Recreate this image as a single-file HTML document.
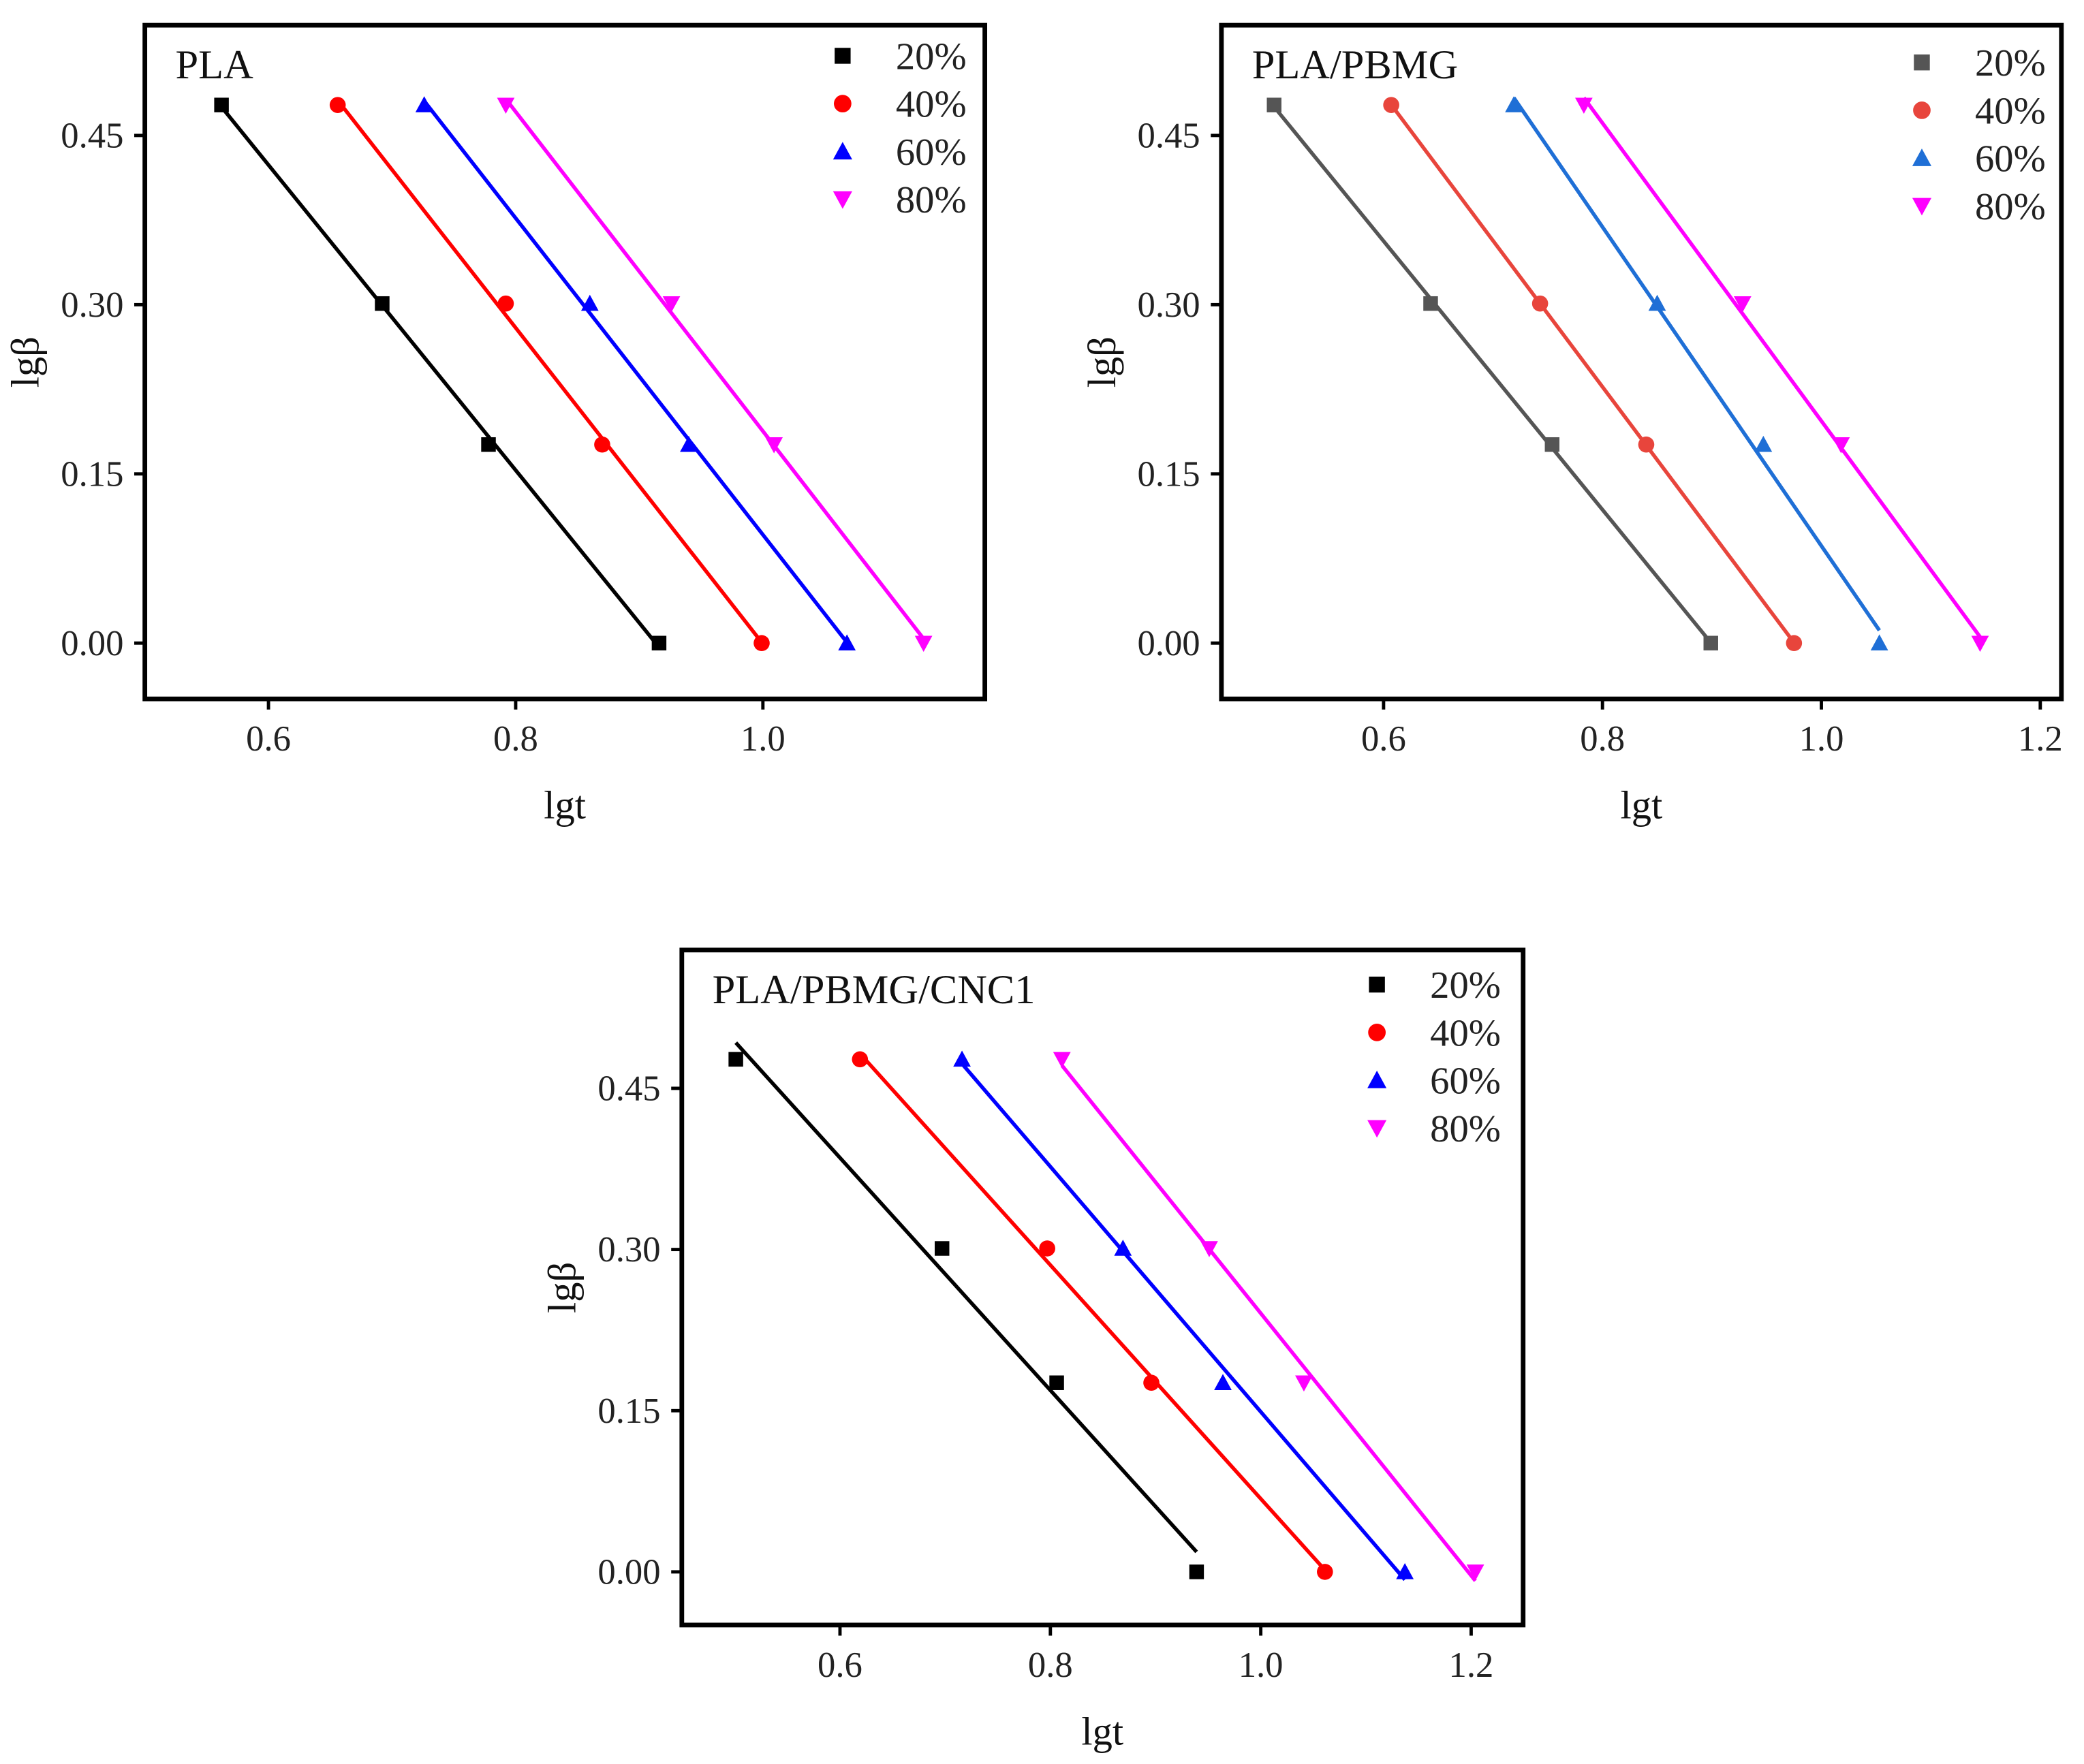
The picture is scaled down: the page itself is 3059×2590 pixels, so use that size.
<!DOCTYPE html>
<html><head><meta charset="utf-8">
<style>
html,body{margin:0;padding:0;background:#fff;}
svg{display:block;}
svg text{font-family:"Liberation Serif","Times New Roman",serif;}
</style></head>
<body>
<svg id="fig" width="3059" height="2590" viewBox="0 0 1568 1327.6" preserveAspectRatio="none" xmlns="http://www.w3.org/2000/svg">
<rect x="0" y="0" width="1568" height="1328" fill="#fff"/>
</svg>
<script>
// Shared y data (lgβ)
const yValues = [0.477, 0.301, 0.176, 0.0];
const seriesLabels = ["20%", "40%", "60%", "80%"];
const yTicks = [0.00, 0.15, 0.30, 0.45];
const yTickLabels = ["0.00", "0.15", "0.30", "0.45"];

// Panel 1: PLA
const plaX20 = [0.562, 0.692, 0.778, 0.916];
const plaX40 = [0.656, 0.792, 0.870, 0.999];
const plaX60 = [0.726, 0.860, 0.940, 1.068];
const plaX80 = [0.792, 0.926, 1.009, 1.130];
const plaXTicks = [0.6, 0.8, 1.0];
const plaXTickLabels = ["0.6", "0.8", "1.0"];

// Panel 2: PLA/PBMG
const pbmgX20 = [0.500, 0.643, 0.754, 0.899];
const pbmgX40 = [0.607, 0.743, 0.840, 0.975];
const pbmgX60 = [0.719, 0.850, 0.947, 1.053];
const pbmgX80 = [0.783, 0.928, 1.018, 1.145];
const pbmgXTicks = [0.6, 0.8, 1.0, 1.2];
const pbmgXTickLabels = ["0.6", "0.8", "1.0", "1.2"];

// Panel 3: PLA/PBMG/CNC1
const cncX20 = [0.501, 0.697, 0.806, 0.939];
const cncX40 = [0.619, 0.797, 0.896, 1.061];
const cncX60 = [0.716, 0.869, 0.964, 1.137];
const cncX80 = [0.811, 0.951, 1.041, 1.204];
const cncXTicks = [0.6, 0.8, 1.0, 1.2];
const cncXTickLabels = ["0.6", "0.8", "1.0", "1.2"];

const NS = "http://www.w3.org/2000/svg";
const svg = document.getElementById("fig");
function mk(tag, attrs, parent){
  const e = document.createElementNS(NS, tag);
  for (const k in attrs) e.setAttribute(k, attrs[k]);
  (parent||svg).appendChild(e);
  return e;
}
function marker(g, shape, cx, cy, s, color){
  let e;
  if (shape==="square") e = mk("rect",{x:cx-s/2,y:cy-s/2,width:s,height:s,fill:color},g);
  else if (shape==="circle") e = mk("circle",{cx:cx,cy:cy,r:s*0.55,fill:color},g);
  else if (shape==="up") e = mk("polygon",{points:`${cx},${cy-s*0.6} ${cx-s*0.6},${cy+s*0.5} ${cx+s*0.6},${cy+s*0.5}`,fill:color},g);
  else e = mk("polygon",{points:`${cx},${cy+s*0.6} ${cx-s*0.6},${cy-s*0.5} ${cx+s*0.6},${cy-s*0.5}`,fill:color},g);
  return e;
}
function fit(xs, ys){
  const n=xs.length; let sx=0,sy=0,sxx=0,sxy=0;
  for(let i=0;i<n;i++){sx+=xs[i];sy+=ys[i];sxx+=xs[i]*xs[i];sxy+=xs[i]*ys[i];}
  const b=(n*sxy-sx*sy)/(n*sxx-sx*sx); const a=(sy-b*sx)/n; return [a,b];
}
function panel(cfg){
  const g = mk("g",{});
  
  
  const xs = v => cfg.x0px + (v - cfg.x0v) * cfg.xScale;
  const ys = v => cfg.y0px - v * cfg.yScale;
  const L=cfg.left, T=cfg.top, R=cfg.right, B=cfg.bottom;
  cfg.xTicks.forEach((t,i)=>{
    const tk = mk("line",{x1:xs(t),x2:xs(t),y1:B,y2:B+8,stroke:"#000","stroke-width":2.5},g);
    
    
    const tl = mk("text",{x:xs(t),y:B+39,"font-size":27,"text-anchor":"middle",fill:"#222"},g);
    tl.textContent = cfg.xTickLabels[i];
    
    
  });
  yTicks.forEach((t,i)=>{
    const tk = mk("line",{x1:L-8,x2:L,y1:ys(t),y2:ys(t),stroke:"#000","stroke-width":2.5},g);
    
    
    const tl = mk("text",{x:L-16,y:ys(t)+9,"font-size":27,"text-anchor":"end",fill:"#222"},g);
    tl.textContent = yTickLabels[i];
    
    
  });
  cfg.series.forEach((s,si)=>{
    const sg = mk("g",{},g);
    
    
    const [a,b] = fit(s.x, yValues);
    const xa = Math.min(...s.x), xb = Math.max(...s.x);
    const ln = mk("line",{x1:xs(xa),y1:ys(a+b*xa),x2:xs(xb),y2:ys(a+b*xb),stroke:s.color,"stroke-width":2.8},sg);
    
    
    s.x.forEach((xv,i)=>{
      const m = marker(sg, s.shape, xs(xv), ys(yValues[i]), 11, s.color);
      
      
    });
    const lm = marker(g, s.shape, cfg.legX, cfg.legY + si*36, 12, s.color);
    
    
    const lt = mk("text",{x:cfg.legX+40,y:cfg.legY+si*36+10,"font-size":29,fill:"#222"},g);
    lt.textContent = seriesLabels[si];
    
    
  });
  const fr = mk("rect",{x:L,y:T,width:R-L,height:B-T,fill:"none",stroke:"#000","stroke-width":3.5},g);
  
  
  const ti = mk("text",{x:L+23,y:T+40,"font-size":31,fill:"#111"},g);
  ti.textContent = cfg.title;
  
  
  const xt = mk("text",{x:(L+R)/2,y:B+90,"font-size":30,"text-anchor":"middle",fill:"#111"},g);
  xt.textContent = "lgt";
  
  
  const yx = L-80, yy=(T+B)/2;
  const yt = mk("text",{x:yx,y:yy,"font-size":30,"text-anchor":"middle",fill:"#111",transform:`rotate(-90 ${yx} ${yy})`},g);
  yt.textContent = "lgβ";
  
  
}
panel({name:"panel-pla", title:"PLA", left:109, top:19, right:741, bottom:526,
  x0v:0.6, x0px:202, xScale:930, y0px:484, yScale:849,
  xTicks:plaXTicks, xTickLabels:plaXTickLabels, legX:634, legY:42,
  series:[{x:plaX20,color:"#000",shape:"square"},{x:plaX40,color:"#ff0000",shape:"circle"},
          {x:plaX60,color:"#0000ff",shape:"up"},{x:plaX80,color:"#ff00ff",shape:"down"}]});
panel({name:"panel-pla-pbmg", title:"PLA/PBMG", left:919, top:19, right:1551, bottom:526,
  x0v:0.6, x0px:1041, xScale:823.5, y0px:484, yScale:849,
  xTicks:pbmgXTicks, xTickLabels:pbmgXTickLabels, legX:1446, legY:47,
  series:[{x:pbmgX20,color:"#555",shape:"square"},{x:pbmgX40,color:"#e8453c",shape:"circle"},
          {x:pbmgX60,color:"#1f6fd6",shape:"up"},{x:pbmgX80,color:"#ff00ff",shape:"down"}]});
panel({name:"panel-pla-pbmg-cnc1", title:"PLA/PBMG/CNC1", left:513, top:715, right:1146, bottom:1223,
  x0v:0.6, x0px:632, xScale:791.5, y0px:1183, yScale:808.7,
  xTicks:cncXTicks, xTickLabels:cncXTickLabels, legX:1036, legY:741,
  series:[{x:cncX20,color:"#000",shape:"square"},{x:cncX40,color:"#ff0000",shape:"circle"},
          {x:cncX60,color:"#0000ff",shape:"up"},{x:cncX80,color:"#ff00ff",shape:"down"}]});
</script>
</body></html>
